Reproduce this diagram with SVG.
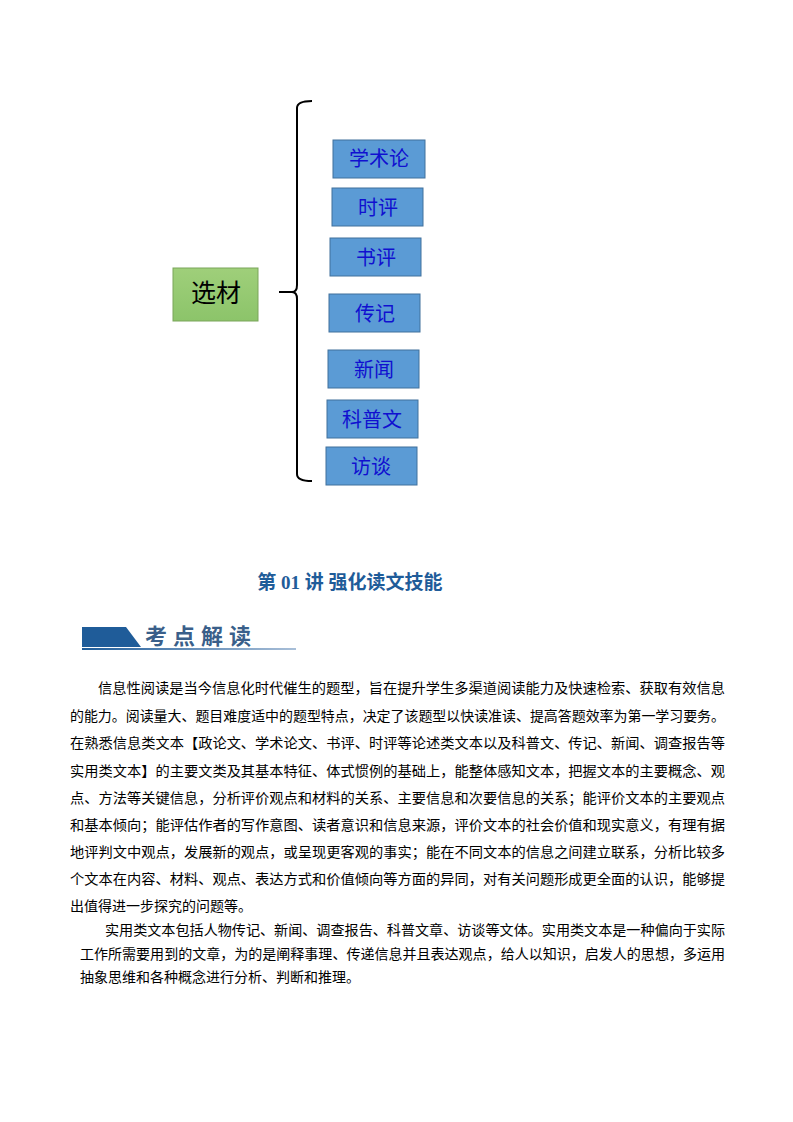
<svg xmlns="http://www.w3.org/2000/svg" width="793" height="1122" viewBox="0 0 793 1122">
<defs>
<linearGradient id="g" x1="0" y1="0" x2="0" y2="1"><stop offset="0" stop-color="#9fcf7a"/><stop offset="1" stop-color="#8cc46a"/></linearGradient>
<linearGradient id="ul" x1="0" y1="0" x2="1" y2="0"><stop offset="0" stop-color="#1f5c99"/><stop offset="1" stop-color="#a9bfd8"/></linearGradient>
</defs>
<style>
.b{fill:#5b9bd5;stroke:#41719c;stroke-width:1}
.bt{font-family:"Liberation Serif","Noto Sans CJK SC",serif;font-size:20px;fill:#1010d0;text-anchor:middle}
.p{font-family:"Liberation Serif","Noto Sans CJK SC",serif;font-size:14px;fill:#000}
</style>
<rect width="793" height="1122" fill="#fff"/>
<g id="root"><rect x="173" y="268" width="85" height="53" fill="url(#g)" stroke="#7aa55a"/><text x="216" y="302" font-family="Liberation Serif,Noto Sans CJK SC,serif" font-size="25" text-anchor="middle" fill="#000">选材</text></g>
<g id="connectors" fill="none" stroke="#000" stroke-width="2">
<path d="M312,101 Q297,101 297,108 L297,285 Q297,292 292,292 L279,292 M292,292 Q297,292 297,299 L297,474 Q297,481 312,481"/>
</g>
<g id="n1"><rect class="b" x="333" y="140" width="92" height="38"/><text class="bt" x="379" y="166">学术论</text></g>
<g id="n2"><rect class="b" x="332" y="188" width="91" height="38"/><text class="bt" x="378" y="215">时评</text></g>
<g id="n3"><rect class="b" x="330" y="238" width="91" height="38"/><text class="bt" x="376" y="265">书评</text></g>
<g id="n4"><rect class="b" x="329" y="294" width="91" height="38"/><text class="bt" x="375" y="321">传记</text></g>
<g id="n5"><rect class="b" x="328" y="350" width="91" height="38"/><text class="bt" x="374" y="377">新闻</text></g>
<g id="n6"><rect class="b" x="327" y="400" width="91" height="38"/><text class="bt" x="372" y="427">科普文</text></g>
<g id="n7"><rect class="b" x="326" y="447" width="91" height="38"/><text class="bt" x="371" y="474">访谈</text></g>
<text x="350" y="589" font-family="Liberation Serif,Noto Sans CJK SC,serif" font-size="19" font-weight="bold" fill="#1f5c99" text-anchor="middle">第 01 讲  强化读文技能</text>
<polygon points="82,627 126,627 141,647 82,647" fill="#1f5c99"/>
<rect x="82" y="648" width="214" height="2" fill="url(#ul)"/>
<text x="145" y="644" font-family="Liberation Serif,Noto Sans CJK SC,serif" font-size="22" font-weight="bold" fill="#3a5f8a" letter-spacing="6">考点解读</text>
<g class="p">
<text x="98" y="693" textLength="627" lengthAdjust="spacingAndGlyphs">信息性阅读是当今信息化时代催生的题型，旨在提升学生多渠道阅读能力及快速检索、获取有效信息</text>
<text x="70" y="721" textLength="655" lengthAdjust="spacingAndGlyphs">的能力。阅读量大、题目难度适中的题型特点，决定了该题型以快读准读、提高答题效率为第一学习要务。</text>
<text x="70" y="748" textLength="655" lengthAdjust="spacingAndGlyphs">在熟悉信息类文本【政论文、学术论文、书评、时评等论述类文本以及科普文、传记、新闻、调查报告等</text>
<text x="70" y="776" textLength="655" lengthAdjust="spacingAndGlyphs">实用类文本】的主要文类及其基本特征、体式惯例的基础上，能整体感知文本，把握文本的主要概念、观</text>
<text x="70" y="803" textLength="655" lengthAdjust="spacingAndGlyphs">点、方法等关键信息，分析评价观点和材料的关系、主要信息和次要信息的关系；能评价文本的主要观点</text>
<text x="70" y="830" textLength="655" lengthAdjust="spacingAndGlyphs">和基本倾向；能评估作者的写作意图、读者意识和信息来源，评价文本的社会价值和现实意义，有理有据</text>
<text x="70" y="857" textLength="655" lengthAdjust="spacingAndGlyphs">地评判文中观点，发展新的观点，或呈现更客观的事实；能在不同文本的信息之间建立联系，分析比较多</text>
<text x="70" y="884" textLength="655" lengthAdjust="spacingAndGlyphs">个文本在内容、材料、观点、表达方式和价值倾向等方面的异同，对有关问题形成更全面的认识，能够提</text>
<text x="70" y="911">出值得进一步探究的问题等。</text>
<text x="105" y="935" textLength="620" lengthAdjust="spacingAndGlyphs">实用类文本包括人物传记、新闻、调查报告、科普文章、访谈等文体。实用类文本是一种偏向于实际</text>
<text x="80" y="959" textLength="645" lengthAdjust="spacingAndGlyphs">工作所需要用到的文章，为的是阐释事理、传递信息并且表达观点，给人以知识，启发人的思想，多运用</text>
<text x="80" y="982">抽象思维和各种概念进行分析、判断和推理。</text>
</g>
</svg>
